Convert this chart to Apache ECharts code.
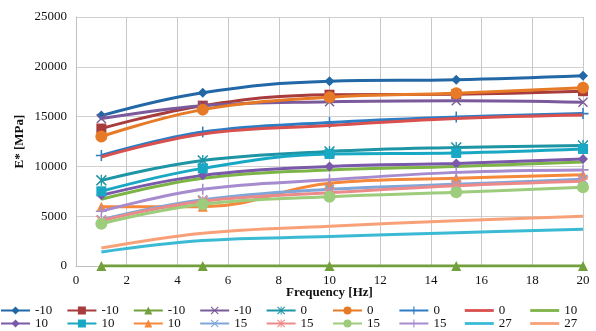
<!DOCTYPE html>
<html>
<head>
<meta charset="utf-8">
<script src="https://cdn.jsdelivr.net/npm/echarts@6/dist/echarts.min.js"></script>
<style>html,body{margin:0;padding:0;background:#fff}#c{width:596px;height:331px}</style>
</head>
<body>
<div id="c"></div>
<script>
const frequencies = [1, 5, 10, 15, 20];
const seriesLabels = ['-10','-10','-10','-10','0','0','0','0','10','10','10','10','15','15','15','15','27','27'];
const s01 = [15100, 17400, 18550, 18700, 19100];
const s02 = [13800, 16100, 17200, 17250, 17550];
const s03 = [0, 0, 0, 0, 0];
const s04 = [14800, 16100, 16500, 16600, 16450];
const s05 = [8600, 10600, 11500, 11900, 12100];
const s06 = [13000, 15700, 16950, 17350, 17900];
const s07 = [11100, 13450, 14400, 14950, 15300];
const s08 = [10950, 13250, 14100, 14800, 15150];
const s09 = [6700, 8800, 9650, 10000, 10450];
const s10 = [7100, 9100, 10000, 10300, 10750];
const s11 = [7500, 9800, 11250, 11350, 11750];
const s12 = [5950, 5950, 8300, 8800, 9150];
const s13 = [4650, 6650, 7700, 8200, 8700];
const s14 = [4550, 6500, 7350, 8050, 8500];
const s15 = [4250, 6200, 6950, 7400, 7900];
const s16 = [5500, 7700, 8650, 9400, 9650];
const s17 = [1400, 2550, 2950, 3350, 3700];
const s18 = [1800, 3300, 4000, 4550, 5000];
const allValues = [s01,s02,s03,s04,s05,s06,s07,s08,s09,s10,s11,s12,s13,s14,s15,s16,s17,s18];

const X_SYM = 'path://M0,1 L1,0 L5,4 L9,0 L10,1 L6,5 L10,9 L9,10 L5,6 L1,10 L0,9 L4,5 Z';
const PLUS_SYM = 'path://M4.3,0 L5.7,0 L5.7,4.3 L10,4.3 L10,5.7 L5.7,5.7 L5.7,10 L4.3,10 L4.3,5.7 L0,5.7 L0,4.3 L4.3,4.3 Z';
const STAR_SYM = 'path://M0,1 L1,0 L5,4 L9,0 L10,1 L6,5 L10,9 L9,10 L5,6 L1,10 L0,9 L4,5 Z M4.4,0 L5.6,0 L5.6,10 L4.4,10 Z';
const LINE_ICON = 'path://M0,4 L29,4 L29,6.8 L0,6.8 Z';

const colors = ['#2268A6','#A83B3B','#72A03C','#7A5A9A','#1D95A5','#E67A26','#2C7DC3','#D9504E','#7DB446',
                '#7A58AA','#18A8C4','#F5883A','#7FA6D9','#EC8A8A','#9DCC7C','#A68BCF','#3BBAD4','#F8A178'];
const symbols = ['diamond','rect','triangle',X_SYM,STAR_SYM,'circle',PLUS_SYM,'none','none',
                 'diamond','rect','triangle',X_SYM,STAR_SYM,'circle',PLUS_SYM,'none','none'];
const sizes = [10,10,10,10,11,12,11,0,0,10,10,10,10,11,12,11,0,0];

const font = 'Liberation Serif, Times New Roman, serif';
const series = allValues.map((vals, i) => ({
  name: 's' + i,
  type: 'line',
  smooth: 0.4,
  data: frequencies.map((f, k) => [f, vals[k]]),
  symbol: symbols[i],
  symbolSize: sizes[i],
  showSymbol: symbols[i] !== 'none',
  lineStyle: { color: colors[i], width: 3 },
  itemStyle: { color: colors[i], borderColor: colors[i], borderWidth: 0 },
  z: 2 + i
}));

const legendData = series.map((s, i) => symbols[i] === 'none'
  ? { name: s.name, icon: LINE_ICON, itemStyle: { color: colors[i] } }
  : { name: s.name });

const legendBase = {
  left: 0, width: 596, orient: 'horizontal',
  itemWidth: 29, itemHeight: 10, itemGap: 5.4,
  padding: 0,
  formatter: name => seriesLabels[+name.slice(1)],
  textStyle: { fontFamily: font, fontSize: 13, color: '#111', width: 26, lineHeight: 12 }
};

const chart = echarts.init(document.getElementById('c'), null, { renderer: 'canvas' });
chart.setOption({
  animation: false,
  backgroundColor: '#fff',
  grid: { left: 76, right: 13, top: 17, bottom: 65 },
  xAxis: {
    type: 'value', min: 0, max: 20, interval: 2,
    name: 'Frequency [Hz]', nameLocation: 'middle', nameGap: 20, nameMoveOverlap: false,
    nameTextStyle: { fontFamily: font, fontWeight: 'bold', fontSize: 13, color: '#111' },
    axisLine: { show: true, lineStyle: { color: '#BFBFBF' } },
    axisTick: { show: false },
    axisLabel: { fontFamily: font, fontSize: 13, color: '#111', margin: 8 },
    splitLine: { show: true, lineStyle: { color: '#C8C8C8', width: 1 } }
  },
  yAxis: {
    type: 'value', min: 0, max: 25000, interval: 5000,
    name: 'E* [MPa]', nameLocation: 'middle', nameGap: 50, nameMoveOverlap: false,
    nameTextStyle: { fontFamily: font, fontWeight: 'bold', fontSize: 13, color: '#111' },
    axisLine: { show: true, lineStyle: { color: '#BFBFBF' } },
    axisTick: { show: false },
    axisLabel: { fontFamily: font, fontSize: 13, color: '#111', margin: 9, formatter: v => String(v) },
    splitLine: { show: true, lineStyle: { color: '#D0D0D0', width: 1 } }
  },
  legend: [
    Object.assign({}, legendBase, { top: 304, data: legendData.slice(0, 9) }),
    Object.assign({}, legendBase, { top: 317, data: legendData.slice(9) })
  ],
  series: series
});
</script>
</body>
</html>
